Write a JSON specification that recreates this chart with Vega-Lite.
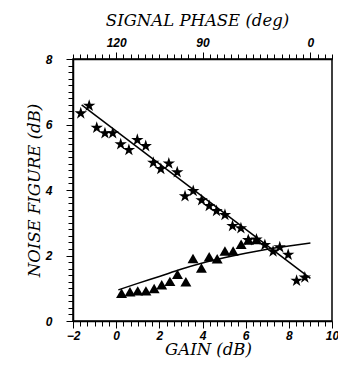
{
  "$schema": "https://vega.github.io/schema/vega-lite/v6.json",
  "width": 259,
  "height": 262,
  "autosize": {"type": "none"},
  "padding": {"left": 73, "top": 59, "right": 6, "bottom": 49},
  "background": "white",
  "config": {
    "view": {"stroke": "black", "strokeWidth": 1.5},
    "axis": {
      "domainColor": "black", "domainWidth": 1.5, "tickColor": "black", "tickWidth": 1,
      "labelFont": "Liberation Sans", "labelFontWeight": "bold", "labelFontStyle": "italic",
      "labelFontSize": 12, "labelColor": "black", "labelOverlap": false, "labelFlush": false,
      "titleFont": "DejaVu Serif", "titleFontStyle": "italic", "titleFontWeight": "normal",
      "titleFontSize": 16.5, "titleColor": "black", "grid": false
    }
  },
  "datasets": {
    "stars": [
      {"g": -1.64, "nf": 6.34}, {"g": -1.25, "nf": 6.57}, {"g": -0.90, "nf": 5.90},
      {"g": -0.52, "nf": 5.73}, {"g": -0.16, "nf": 5.73}, {"g": 0.21, "nf": 5.40},
      {"g": 0.59, "nf": 5.22}, {"g": 0.98, "nf": 5.53}, {"g": 1.37, "nf": 5.34},
      {"g": 1.72, "nf": 4.83}, {"g": 2.07, "nf": 4.64}, {"g": 2.44, "nf": 4.81},
      {"g": 2.83, "nf": 4.54}, {"g": 3.19, "nf": 3.81}, {"g": 3.57, "nf": 3.97},
      {"g": 3.96, "nf": 3.69}, {"g": 4.31, "nf": 3.51}, {"g": 4.65, "nf": 3.36},
      {"g": 5.04, "nf": 3.24}, {"g": 5.39, "nf": 2.90}, {"g": 5.78, "nf": 2.83},
      {"g": 6.12, "nf": 2.47}, {"g": 6.50, "nf": 2.49}, {"g": 6.89, "nf": 2.32},
      {"g": 7.27, "nf": 2.12}, {"g": 7.58, "nf": 2.25}, {"g": 7.97, "nf": 2.02},
      {"g": 8.36, "nf": 1.23}, {"g": 8.74, "nf": 1.33}
    ],
    "triangles": [
      {"g": 0.25, "nf": 0.85}, {"g": 0.64, "nf": 0.89}, {"g": 1.00, "nf": 0.92},
      {"g": 1.38, "nf": 0.92}, {"g": 1.76, "nf": 0.99}, {"g": 2.11, "nf": 1.11},
      {"g": 2.49, "nf": 1.21}, {"g": 2.84, "nf": 1.43}, {"g": 3.23, "nf": 1.20},
      {"g": 3.56, "nf": 1.91}, {"g": 3.95, "nf": 1.62}, {"g": 4.31, "nf": 1.96},
      {"g": 4.68, "nf": 1.90}, {"g": 5.04, "nf": 2.14}, {"g": 5.42, "nf": 2.14},
      {"g": 5.79, "nf": 2.34}, {"g": 6.13, "nf": 2.47}, {"g": 6.50, "nf": 2.49}
    ],
    "starFit": [{"g": -1.6, "nf": 6.6}, {"g": 9.0, "nf": 1.3}],
    "triFit": [
      {"g": 0.1, "nf": 0.95}, {"g": 1, "nf": 1.15}, {"g": 2, "nf": 1.36},
      {"g": 3, "nf": 1.58}, {"g": 4, "nf": 1.77}, {"g": 5, "nf": 1.93},
      {"g": 6, "nf": 2.07}, {"g": 7, "nf": 2.19}, {"g": 8, "nf": 2.29}, {"g": 9, "nf": 2.38}
    ]
  },
  "resolve": {"axis": {"x": "independent", "y": "independent"}},
  "layer": [
    {
      "data": {"name": "starFit"},
      "mark": {"type": "line", "color": "black", "strokeWidth": 1.5},
      "encoding": {
        "x": {"field": "g", "type": "quantitative",
          "scale": {"domain": [-2, 10], "nice": false, "zero": false},
          "axis": {
            "orient": "bottom", "title": "GAIN (dB)",
            "values": [-2, -1.6667, -1.3333, -1, -0.6667, -0.3333, 0, 0.3333, 0.6667, 1, 1.3333, 1.6667, 2, 2.3333, 2.6667, 3, 3.3333, 3.6667, 4, 4.3333, 4.6667, 5, 5.3333, 5.6667, 6, 6.3333, 6.6667, 7, 7.3333, 7.6667, 8, 8.3333, 8.6667, 9, 9.3333, 9.6667, 10],
            "labelExpr": "datum.value % 2 === 0 ? format(datum.value, 'd') : ''",
            "tickSize": {"condition": {"test": "datum.value % 2 === 0", "value": 7}, "value": 5},
            "labelPadding": 2, "titlePadding": 0, "titleX": 135
          }},
        "y": {"field": "nf", "type": "quantitative",
          "scale": {"domain": [0, 8], "nice": false},
          "axis": {
            "orient": "left", "title": "NOISE FIGURE (dB)",
            "values": [0, 0.2, 0.4, 0.6, 0.8, 1, 1.2, 1.4, 1.6, 1.8, 2, 2.2, 2.4, 2.6, 2.8, 3, 3.2, 3.4, 3.6, 3.8, 4, 4.2, 4.4, 4.6, 4.8, 5, 5.2, 5.4, 5.6, 5.8, 6, 6.2, 6.4, 6.6, 6.8, 7, 7.2, 7.4, 7.6, 7.8, 8],
            "labelExpr": "datum.value % 2 === 0 ? format(datum.value, 'd') : ''",
            "tickSize": {"condition": {"test": "datum.value % 2 === 0", "value": 7}, "value": 5},
            "labelPadding": 14, "titlePadding": 3
          }}
      }
    },
    {
      "data": {"name": "triFit"},
      "mark": {"type": "line", "color": "black", "strokeWidth": 1.5, "interpolate": "monotone"},
      "encoding": {
        "x": {"field": "g", "type": "quantitative", "axis": null},
        "y": {"field": "nf", "type": "quantitative", "axis": null}
      }
    },
    {
      "data": {"name": "stars"},
      "mark": {"type": "point", "filled": true, "color": "black", "opacity": 1, "size": 170,
        "shape": "M0,-1L0.2245,-0.309L0.951,-0.309L0.363,0.118L0.588,0.809L0,0.382L-0.588,0.809L-0.363,0.118L-0.951,-0.309L-0.2245,-0.309Z"},
      "encoding": {
        "x": {"field": "g", "type": "quantitative", "axis": null},
        "y": {"field": "nf", "type": "quantitative", "axis": null}
      }
    },
    {
      "data": {"name": "triangles"},
      "mark": {"type": "point", "filled": true, "color": "black", "opacity": 1, "size": 120, "shape": "triangle-up"},
      "encoding": {
        "x": {"field": "g", "type": "quantitative",
          "axis": {
            "orient": "top", "title": "SIGNAL PHASE (deg)",
            "values": [-2, -1.6667, -1.3333, -1, -0.6667, -0.3333, 0, 0.3333, 0.6667, 1, 1.3333, 1.6667, 2, 2.3333, 2.6667, 3, 3.3333, 3.6667, 4, 4.3333, 4.6667, 5, 5.3333, 5.6667, 6, 6.3333, 6.6667, 7, 7.3333, 7.6667, 8, 8.3333, 8.6667, 9, 9.3333, 9.6667, 10],
            "labelExpr": "datum.value === 0 ? '120' : datum.value === 4 ? '90' : datum.value === 9 ? '0' : ''",
            "tickSize": {"condition": {"test": "datum.value === 0 || datum.value === 4 || datum.value === 9", "value": 7}, "value": 5},
            "labelPadding": 3, "titlePadding": 8, "titleX": 124
          }},
        "y": {"field": "nf", "type": "quantitative", "axis": null}
      }
    }
  ]
}
